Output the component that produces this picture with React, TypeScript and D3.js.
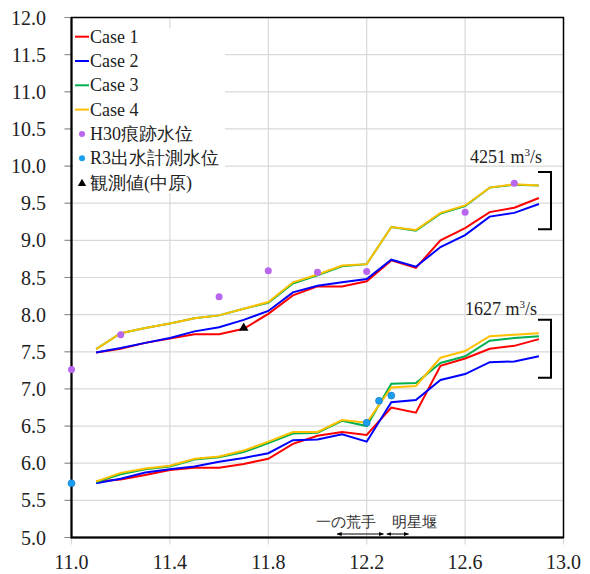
import * as d3 from "d3";
import React, { useEffect, useRef } from "react";

// distance (km) of each calculation point
const xs = [11.1, 11.2, 11.3, 11.4, 11.5, 11.6, 11.7, 11.8, 11.9, 12.0, 12.1, 12.2, 12.3, 12.4, 12.5, 12.6, 12.7, 12.8, 12.9];

// 4251 m3/s
const case1Hi = [7.49, 7.54, 7.62, 7.68, 7.735, 7.735, 7.81, 8.01, 8.26, 8.38, 8.38, 8.45, 8.73, 8.63, 9.0, 9.165, 9.38, 9.44, 9.57];
const case2Hi = [7.49, 7.55, 7.62, 7.685, 7.775, 7.83, 7.93, 8.05, 8.3, 8.39, 8.435, 8.48, 8.74, 8.645, 8.91, 9.07, 9.32, 9.37, 9.49];
const case3Hi = [7.535, 7.75, 7.82, 7.88, 7.95, 7.99, 8.08, 8.16, 8.42, 8.53, 8.65, 8.68, 9.18, 9.13, 9.36, 9.46, 9.71, 9.75, 9.74];
const case4Hi = [7.535, 7.75, 7.82, 7.88, 7.95, 7.99, 8.08, 8.17, 8.435, 8.54, 8.66, 8.68, 9.18, 9.14, 9.37, 9.47, 9.71, 9.755, 9.74];

// 1627 m3/s
const case1Lo = [5.755, 5.78, 5.84, 5.91, 5.94, 5.94, 5.99, 6.06, 6.26, 6.37, 6.42, 6.38, 6.75, 6.68, 7.31, 7.41, 7.54, 7.58, 7.67];
const case2Lo = [5.73, 5.79, 5.875, 5.92, 5.955, 6.02, 6.07, 6.135, 6.31, 6.32, 6.39, 6.29, 6.82, 6.85, 7.12, 7.2, 7.36, 7.37, 7.44];
const case3Lo = [5.745, 5.85, 5.92, 5.955, 6.05, 6.08, 6.15, 6.27, 6.4, 6.41, 6.57, 6.5, 7.07, 7.08, 7.35, 7.44, 7.65, 7.685, 7.71];
const case4Lo = [5.755, 5.87, 5.93, 5.965, 6.06, 6.09, 6.17, 6.29, 6.42, 6.42, 6.58, 6.545, 7.02, 7.04, 7.42, 7.51, 7.71, 7.73, 7.75];

const h30 = [[11.0, 7.26], [11.2, 7.73], [11.6, 8.24], [11.8, 8.59], [12.0, 8.57], [12.2, 8.58], [12.6, 9.38], [12.8, 9.77]];
const r3 = [[11.0, 5.73], [12.2, 6.545], [12.25, 6.84], [12.3, 6.91]];
const observed = [[11.7, 7.82]];

const xTicks = [11.0, 11.4, 11.8, 12.2, 12.6, 13.0];
const yTicks = [5.0, 5.5, 6.0, 6.5, 7.0, 7.5, 8.0, 8.5, 9.0, 9.5, 10.0, 10.5, 11.0, 11.5, 12.0];

const caseNames = ["Case 1", "Case 2", "Case 3", "Case 4"];
const caseColors = ["#ff0000", "#0000ff", "#00b050", "#ffc000"];

const SERIF = "Liberation Serif, Times New Roman, DejaVu Serif, serif";

export default function App() {
  const ref = useRef<SVGSVGElement>(null);

  useEffect(() => {
    document.body.style.margin = "0";
    const svg = d3.select(ref.current);
    svg.selectAll("*").remove();

    const x = d3.scaleLinear().domain([11, 13]).range([71.5, 563.5]);
    const y = d3.scaleLinear().domain([5, 12]).range([537.5, 17.5]);

    const defs = svg.append("defs");
    defs
      .append("marker")
      .attr("id", "ah")
      .attr("viewBox", "0 0 10 10")
      .attr("refX", 9)
      .attr("refY", 5)
      .attr("markerWidth", 5)
      .attr("markerHeight", 5)
      .attr("orient", "auto-start-reverse")
      .append("path")
      .attr("d", "M0,1L10,5L0,9Z")
      .attr("fill", "#000");

    // grid
    svg
      .append("g")
      .selectAll("line")
      .data(yTicks.slice(1))
      .enter()
      .append("line")
      .attr("x1", x(11) - 7)
      .attr("x2", x(13))
      .attr("y1", (d) => y(d))
      .attr("y2", (d) => y(d))
      .attr("stroke", "#d9d9d9")
      .attr("stroke-width", 1.2);
    svg
      .append("line")
      .attr("x1", x(11) - 7)
      .attr("x2", x(11))
      .attr("y1", y(5))
      .attr("y2", y(5))
      .attr("stroke", "#888");
    svg
      .append("g")
      .selectAll("line")
      .data(xTicks)
      .enter()
      .append("line")
      .attr("x1", (d) => x(d))
      .attr("x2", (d) => x(d))
      .attr("y1", y(12))
      .attr("y2", y(5) + 7)
      .attr("stroke", "#d9d9d9")
      .attr("stroke-width", 1.2);

    // tick marks on y
    svg
      .append("g")
      .selectAll("line")
      .data(yTicks)
      .enter()
      .append("line")
      .attr("x1", x(11) - 7)
      .attr("x2", x(11))
      .attr("y1", (d) => y(d))
      .attr("y2", (d) => y(d))
      .attr("stroke", "#888");

    // legend background
    svg
      .append("rect")
      .attr("x", 73)
      .attr("y", 28)
      .attr("width", 152)
      .attr("height", 165)
      .attr("fill", "#fff");

    // frame
    svg
      .append("rect")
      .attr("x", x(11))
      .attr("y", y(12))
      .attr("width", x(13) - x(11))
      .attr("height", y(5) - y(12))
      .attr("fill", "none")
      .attr("stroke", "#000")
      .attr("stroke-width", 1.5);
    svg
      .append("path")
      .attr("d", `M${x(11)},${y(12)}V${y(5)}H${x(13)}`)
      .attr("fill", "none")
      .attr("stroke", "#000")
      .attr("stroke-width", 2);

    // tick labels
    svg
      .append("g")
      .selectAll("text")
      .data(yTicks)
      .enter()
      .append("text")
      .attr("x", 46)
      .attr("y", (d) => y(d) + 7)
      .attr("text-anchor", "end")
      .attr("font-family", SERIF)
      .attr("font-size", 20)
      .attr("fill", "#222")
      .text((d) => d.toFixed(1));
    svg
      .append("g")
      .selectAll("text")
      .data(xTicks)
      .enter()
      .append("text")
      .attr("x", (d) => x(d))
      .attr("y", 569)
      .attr("text-anchor", "middle")
      .attr("font-family", SERIF)
      .attr("font-size", 20)
      .attr("fill", "#222")
      .text((d) => d.toFixed(1));

    // lines
    const line = d3
      .line<number>()
      .x((_, i) => x(xs[i]))
      .y((d) => y(d));
    const groups = [
      [case1Hi, case2Hi, case3Hi, case4Hi],
      [case1Lo, case2Lo, case3Lo, case4Lo],
    ];
    groups.forEach((g) => {
      g.forEach((vals, i) => {
        svg
          .append("path")
          .attr("d", line(vals))
          .attr("fill", "none")
          .attr("stroke", caseColors[i])
          .attr("stroke-width", 2);
      });
    });

    // points
    svg
      .append("g")
      .selectAll("circle")
      .data(h30)
      .enter()
      .append("circle")
      .attr("cx", (d) => x(d[0]))
      .attr("cy", (d) => y(d[1]))
      .attr("r", 3.5)
      .attr("fill", "#b866ee");
    svg
      .append("g")
      .selectAll("circle")
      .data(r3)
      .enter()
      .append("circle")
      .attr("cx", (d) => x(d[0]))
      .attr("cy", (d) => y(d[1]))
      .attr("r", 3.5)
      .attr("fill", "#1a9ff0")
      .attr("stroke", "#1673c8")
      .attr("stroke-width", 0.6);
    const tri = d3.symbol().type(d3.symbolTriangle).size(40);
    svg
      .append("g")
      .selectAll("path")
      .data(observed)
      .enter()
      .append("path")
      .attr("d", tri() as string)
      .attr("transform", (d) => `translate(${x(d[0])},${y(d[1])})`)
      .attr("fill", "#000");

    // legend
    const leg = svg.append("g").attr("font-family", SERIF).attr("font-size", 18).attr("fill", "#222");
    const rowY = (i: number) => 36.7 + i * 24.3;
    caseNames.forEach((n, i) => {
      leg
        .append("line")
        .attr("x1", 75)
        .attr("x2", 89)
        .attr("y1", rowY(i))
        .attr("y2", rowY(i))
        .attr("stroke", caseColors[i])
        .attr("stroke-width", 2);
      leg
        .append("text")
        .attr("x", 90)
        .attr("y", rowY(i) + 6)
        .text(n);
    });
    leg.append("circle").attr("cx", 82).attr("cy", rowY(4)).attr("r", 3).attr("fill", "#b866ee");
    leg.append("text").attr("x", 90).attr("y", rowY(4) + 6).text("H30痕跡水位");
    leg.append("circle").attr("cx", 82).attr("cy", rowY(5)).attr("r", 3).attr("fill", "#1a9ff0");
    leg.append("text").attr("x", 90).attr("y", rowY(5) + 6).text("R3出水計測水位");
    leg
      .append("path")
      .attr("d", d3.symbol().type(d3.symbolTriangle).size(30)() as string)
      .attr("transform", `translate(82,${rowY(6) + 1})`)
      .attr("fill", "#000");
    leg.append("text").attr("x", 90).attr("y", rowY(6) + 6).text("観測値(中原)");

    // discharge brackets
    const brackets = [
      { label: "4251", top: 9.92, bottom: 9.15, ty: 163, tx: 470 },
      { label: "1627", top: 7.93, bottom: 7.15, ty: 315, tx: 465 },
    ];
    brackets.forEach((b) => {
      svg
        .append("path")
        .attr("d", `M538,${y(b.top)}H551V${y(b.bottom)}H538`)
        .attr("fill", "none")
        .attr("stroke", "#000")
        .attr("stroke-width", 2);
      const t = svg
        .append("text")
        .attr("x", b.tx)
        .attr("y", b.ty)
        .attr("font-family", SERIF)
        .attr("font-size", 18)
        .attr("fill", "#222");
      t.append("tspan").text(`${b.label} m`);
      t.append("tspan").attr("font-size", 11).attr("dy", -7).text("3");
      t.append("tspan").attr("dy", 7).text("/s");
    });

    // section annotations
    const ann = svg.append("g").attr("font-family", SERIF).attr("font-size", 15).attr("fill", "#333");
    ann.append("text").attr("x", 316).attr("y", 527).text("一の荒手");
    ann.append("text").attr("x", 392).attr("y", 527).text("明星堰");
    [
      [12.08, 12.268],
      [12.282, 12.37],
    ].forEach((r) => {
      svg
        .append("line")
        .attr("x1", x(r[0]))
        .attr("x2", x(r[1]))
        .attr("y1", 534)
        .attr("y2", 534)
        .attr("stroke", "#000")
        .attr("stroke-width", 1)
        .attr("marker-start", "url(#ah)")
        .attr("marker-end", "url(#ah)");
    });
  }, []);

  return <svg ref={ref} width={590} height={574} style={{ display: "block" }} />;
}
